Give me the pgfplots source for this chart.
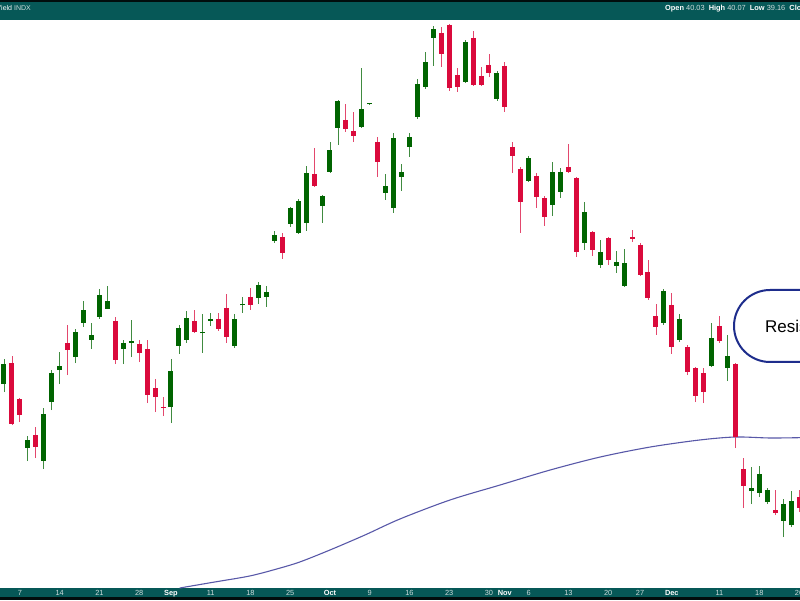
\documentclass[border=0pt]{standalone}
\usepackage{pgfplots}
\pgfplotsset{compat=1.18}
\usepackage{pgfplotstable}
\usepackage{fontspec}
\setmainfont{Liberation Sans}
\definecolor{cgreen}{RGB}{0,100,0}
\definecolor{cred}{RGB}{218,10,60}
\definecolor{barteal}{RGB}{6,88,87}
\definecolor{maline}{RGB}{88,88,168}
\definecolor{resblue}{RGB}{30,45,140}
\definecolor{ticktext}{RGB}{205,220,220}
\newcommand\mon[1]{\textcolor{white}{\bfseries #1}}

% candles: i = trading-day index, o h l c
\pgfplotstableread{
i o h l c
0 41.400 42.025 41.200 41.900
3 39.800 40.100 39.475 40.000
5 39.475 40.800 39.275 40.650
6 40.950 41.750 40.750 41.675
7 41.750 42.200 41.400 41.850
9 42.075 42.775 41.925 42.700
10 42.925 43.475 42.825 43.250
11 42.500 42.925 42.275 42.625
12 43.075 43.775 43.025 43.625
13 43.275 43.850 43.275 43.475
15 42.275 42.500 41.900 42.425
16 42.425 43.000 42.075 42.475
21 40.825 42.025 40.425 41.725
22 42.350 42.875 42.150 42.800
23 42.500 43.225 42.425 43.050
25 42.663 43.150 42.175 42.700
26 42.975 43.175 42.850 43.025
29 42.350 43.150 42.300 43.025
30 43.363 43.575 43.175 43.400
32 43.550 43.950 43.400 43.875
33 43.575 43.850 43.325 43.700
34 44.975 45.225 44.925 45.125
36 45.400 45.825 45.325 45.800
37 45.175 46.025 45.150 45.975
38 45.425 46.850 45.225 46.675
40 45.850 46.125 45.425 46.100
41 46.700 47.450 46.675 47.250
42 47.800 48.500 47.375 48.475
45 47.825 49.300 47.800 48.275
46 48.388 48.425 48.375 48.413
48 46.175 46.650 46.000 46.350
49 45.800 47.675 45.675 47.550
50 46.575 46.900 46.225 46.700
51 47.325 47.675 47.075 47.575
52 48.075 49.025 48.025 48.900
53 48.825 49.700 48.775 49.450
54 50.050 50.350 49.350 50.275
58 48.950 50.000 48.925 49.950
62 48.525 49.225 48.475 49.175
66 46.475 47.100 46.450 47.050
69 45.875 46.950 45.600 46.700
70 46.200 46.800 46.050 46.700
73 44.925 45.950 44.750 45.700
75 44.375 45.000 44.300 44.700
77 44.350 44.725 44.175 44.450
78 43.850 44.775 43.825 44.425
83 42.925 43.775 42.875 43.725
85 42.500 43.150 42.450 43.025
89 41.850 42.925 41.825 42.550
91 41.800 42.625 41.475 42.100
94 38.725 39.325 38.400 38.800
95 38.675 39.350 38.575 39.150
96 38.450 38.800 38.400 38.750
98 37.975 38.525 37.575 38.400
99 37.875 38.725 37.825 38.475
}\upcandles

\pgfplotstableread{
i o h l c
1 41.925 42.100 40.375 40.400
2 41.025 41.050 40.450 40.625
4 40.125 40.325 39.550 39.825
8 42.425 42.875 41.625 42.250
14 42.975 43.075 41.900 42.000
17 42.400 42.500 41.950 42.175
18 42.275 42.500 40.925 41.125
19 41.300 41.525 40.700 41.075
20 40.825 41.075 40.600 40.788
24 42.975 43.250 42.675 42.700
27 43.025 43.175 42.725 42.775
28 43.300 43.650 42.425 42.575
31 43.575 43.800 43.250 43.375
35 45.075 45.175 44.525 44.675
39 46.650 47.300 46.325 46.350
43 48.000 48.400 47.700 47.775
44 47.725 48.200 47.450 47.600
47 47.450 47.575 46.575 46.950
55 50.175 50.325 49.325 49.650
56 50.375 50.400 48.725 48.800
57 49.125 49.300 48.700 48.825
59 50.050 50.225 48.850 48.875
60 49.100 49.325 48.850 48.875
61 49.375 49.650 49.075 49.175
63 49.350 49.450 48.200 48.325
64 47.325 47.450 46.675 47.100
65 46.775 46.825 45.175 45.950
67 46.600 46.675 45.800 46.075
68 46.050 46.100 45.350 45.575
71 46.825 47.400 46.675 46.700
72 46.550 46.575 44.575 44.700
74 45.200 45.225 44.600 44.750
76 45.050 45.075 44.375 44.500
79 45.075 45.250 44.950 45.025
80 44.875 44.925 44.100 44.125
81 44.200 44.500 43.500 43.550
82 43.100 43.400 42.625 42.825
84 43.375 43.675 42.150 42.325
86 42.325 42.375 41.625 41.700
87 41.800 41.825 40.950 41.100
88 41.675 41.800 40.925 41.200
90 42.850 43.100 42.425 42.475
92 41.900 41.925 39.800 40.075
93 39.275 39.550 38.300 38.850
97 38.250 38.750 38.125 38.175
100 38.575 38.750 38.200 38.300
}\downcandles

\begin{document}
\begin{tikzpicture}
\begin{axis}[
  scale only axis, width=800pt, height=600pt,
  xmin=-0.503, xmax=100.126, ymin=36, ymax=51,
  axis on top=true,
  axis line style={draw=none},
  major tick length=0pt,
  ytick=\empty,
  xtick={2,7,12,17,21,26,31,36,41,46,51,56,61,63,66,71,76,80,84,90,95,100},
  xticklabels={7,14,21,28,\mon{Sep},11,18,25,\mon{Oct},9,16,23,30,\mon{Nov},6,13,20,27,\mon{Dec},11,18,26},
  xticklabel style={anchor=base, yshift=4.4pt, font=\fontsize{7.4}{8}\selectfont, text=ticktext},
  clip=true,
]
% header / footer bars
\fill[barteal] (rel axis cs:0,0.005) rectangle (rel axis cs:1,0.02);
\fill[black!85!barteal] (rel axis cs:0,0) rectangle (rel axis cs:1,0.005);
\fill[barteal] (rel axis cs:0,0.966667) rectangle (rel axis cs:1,0.99583);
\fill[black!85!barteal] (rel axis cs:0,0.99583) rectangle (rel axis cs:1,1);
% 200-day moving average
\addplot[maline, line width=1.1pt, smooth, tension=0.5] coordinates {
(22.1,36.3) (26.5,36.45) (30.9,36.6) (34.3,36.775) (37.2,36.95) (41.0,37.25)
(45.4,37.625) (49.8,38.025) (56.1,38.5) (62.4,38.875) (68.7,39.25) (75.0,39.575)
(81.3,39.825) (87.5,40.0) (92.0,40.075) (96.4,40.05) (100.5,40.06)};
% wicks
\addplot[cgreen!75!white, line width=0.8pt, -, quiver={u=0, v=\thisrow{h}-\thisrow{l}}] table[x=i, y=l] {\upcandles};
\addplot[cred!75!white, line width=0.8pt, -, quiver={u=0, v=\thisrow{h}-\thisrow{l}}] table[x=i, y=l] {\downcandles};
% bodies
\addplot[cgreen, line width=5pt, -, quiver={u=0, v=\thisrow{c}-\thisrow{o}}] table[x=i, y=o] {\upcandles};
\addplot[cred, line width=5pt, -, quiver={u=0, v=\thisrow{c}-\thisrow{o}}] table[x=i, y=o] {\downcandles};
\coordinate (SW) at (rel axis cs:0,0);
\coordinate (NE) at (rel axis cs:1,1);
\coordinate (NW) at (rel axis cs:0,1);
\end{axis}
\begin{scope}[shift={(NW)}, x=1pt, y=-1pt]
\node[overlay, anchor=base east, inner sep=0pt, text=ticktext, font=\fontsize{7}{8}\selectfont] at (31,10.5) {\textcolor{white}{\bfseries\$TNX} \textcolor{white}{10-Year US Treasury Yield} INDX};
\node[overlay, anchor=base west, inner sep=0pt, text=ticktext, font=\fontsize{7.4}{8}\selectfont] at (665,10.5) {\mon{Open} 40.03 \ \mon{High} 40.07 \ \mon{Low} 39.16 \ \mon{Close} 39.64};
\draw[overlay, resblue, line width=2pt, fill=white, rounded corners=36pt] (734,290) rectangle (920,362);
\node[overlay, anchor=west, inner sep=0pt, font=\fontsize{17}{20}\selectfont] at (765,326) {Resistance};
\end{scope}
\pgfresetboundingbox
\path[use as bounding box] (SW) rectangle (NE);
\end{tikzpicture}
\end{document}
